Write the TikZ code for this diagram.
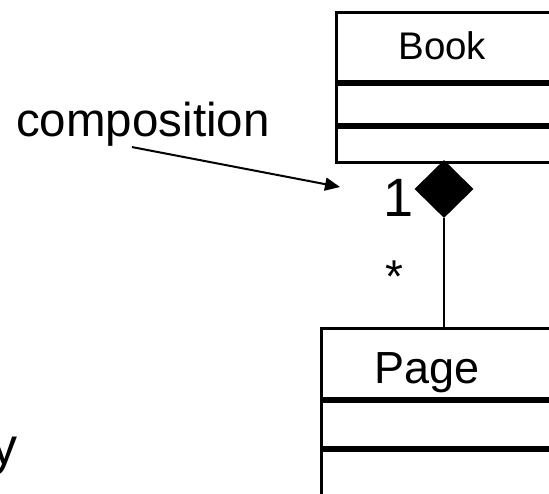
\documentclass[tikz,border=0pt]{standalone}
\usepackage{fontspec}
\setmainfont{Liberation Sans}
\usetikzlibrary{positioning, shapes.geometric, arrows.meta}

\begin{document}
\begin{tikzpicture}[x=1pt, y=-1pt,
          box/.style={draw, line width=3pt, rectangle, anchor=north west, inner sep=0pt, minimum width=240pt},
          txt/.style={font=\fontsize{#1}{#1}\selectfont, inner sep=0pt, anchor=base},
          assoc/.style={line width=2.2pt},
          pointer/.style={line width=2pt, -{Triangle[length=15pt, width=13pt]}}
        ]
        \useasboundingbox (0,0) rectangle (549,494);
        % class Book
        \node[box, font=\fontsize{38.5}{38.5}\selectfont, align=left, inner xsep=62pt, text width=116pt,
              text height=47pt, text depth=22pt] (bookhead) at (335,11) {Book};
        \node[box, minimum height=40pt] (bookattr) at (bookhead.south west) {};
        \node[box, minimum height=35pt] (bookops) at (bookattr.south west) {};
        % class Page
        \node[box, font=\fontsize{45}{45}\selectfont, align=left, inner xsep=53pt, text width=134pt,
              text height=55pt, text depth=15pt] (pagehead) at (320,327) {Page};
        \node[box, minimum height=46pt] (pageattr) at (pagehead.south west) {};
        \node[box, minimum height=49pt] (pageops) at (pageattr.south west) {};
        % composition
        \node[diamond, fill, inner sep=0pt, minimum width=59pt, minimum height=58pt] (dia) at (444,189) {};
        \draw[assoc] (dia.south) -- (dia.south |- pagehead.north);
        \node[txt=54] (one) at (399,217) {1};
        \node[txt=46] (many) at (394,293) {*};
        \node[txt=47.5, anchor=base west] (comp) at (16,137) {composition};
        \coordinate (tip) at (340,187);
        \draw[pointer] ([xshift=-11pt]comp.south) -- (tip);
        \node[txt=52, anchor=base east] (rest) at (18,464) {y};
      \end{tikzpicture}
\end{document}
